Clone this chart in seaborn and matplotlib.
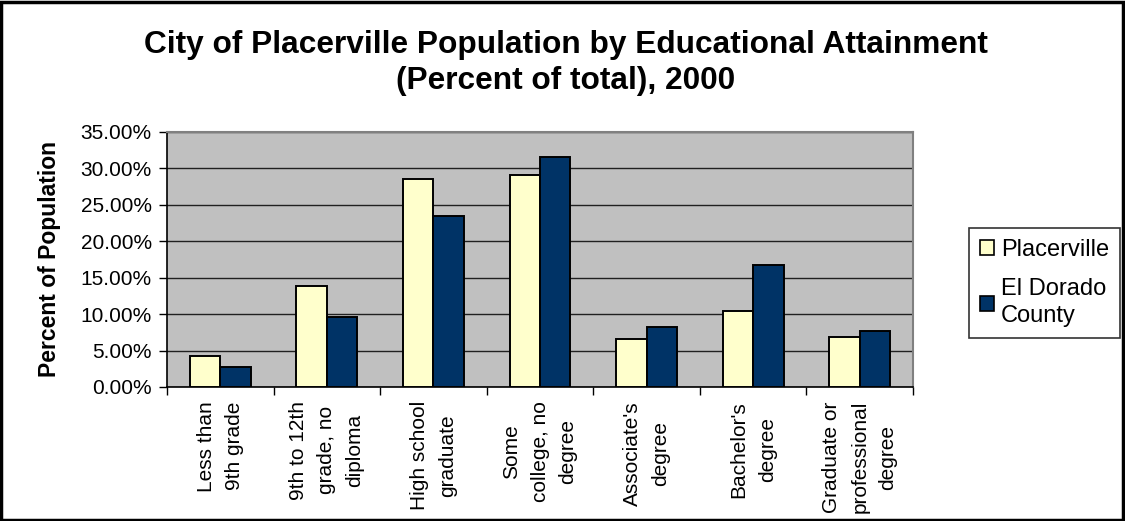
import matplotlib
matplotlib.use("Agg")
import matplotlib.pyplot as plt
import matplotlib.patches as mpatches
from matplotlib.ticker import FixedLocator, FuncFormatter
import seaborn as sns
import pandas as pd

categories = [
    "Less than\n9th grade",
    "9th to 12th\ngrade, no\ndiploma",
    "High school\ngraduate",
    "Some\ncollege, no\ndegree",
    "Associate's\ndegree",
    "Bachelor's\ndegree",
    "Graduate or\nprofessional\ndegree",
]
placerville = [4.3, 13.9, 28.5, 29.1, 6.6, 10.4, 6.9]
el_dorado = [2.7, 9.6, 23.5, 31.5, 8.3, 16.8, 7.7]
series_names = ["Placerville", "El Dorado\nCounty"]
colors = ["#FFFFCC", "#003366"]
y_ticks = [0, 5, 10, 15, 20, 25, 30, 35]

df = pd.DataFrame({
    "category": categories * 2,
    "value": placerville + el_dorado,
    "series": [series_names[0]] * len(categories) + [series_names[1]] * len(categories),
})

sns.set_style("white")
plt.rcParams["font.family"] = ["Liberation Sans", "DejaVu Sans"]
plt.rcParams["text.color"] = "black"
plt.rcParams["axes.labelcolor"] = "black"
plt.rcParams["xtick.color"] = "black"
plt.rcParams["ytick.color"] = "black"

fig = plt.figure(figsize=(11.25, 5.21), dpi=100)
ax = fig.add_axes([167 / 1125, 1 - 387 / 521, (913 - 167) / 1125, (387 - 132) / 521])
ax.set_facecolor("#C0C0C0")

sns.barplot(data=df, x="category", y="value", hue="series", palette=colors,
            order=categories, hue_order=series_names, width=0.57, saturation=1,
            edgecolor="black", linewidth=1.4, ax=ax, legend=False, zorder=3)

ax.set_ylim(0, 35)
ax.set_xlim(-0.5, len(categories) - 0.5)
ax.yaxis.set_major_locator(FixedLocator(y_ticks))
ax.yaxis.set_major_formatter(FuncFormatter(lambda v, p: f"{v:.2f}%"))
ax.grid(axis="y", color="#202020", linewidth=1.0, zorder=1)
ax.set_axisbelow(True)
for b in ax.patches:
    b.set_zorder(3)

ax.tick_params(axis="y", which="major", direction="out", length=6, width=1,
               color="black", labelsize=15, pad=5, left=True)
ax.tick_params(axis="x", which="major", length=0, labelsize=15, pad=10)
ax.set_xticks(range(len(categories)))
ax.set_xticklabels(categories, rotation=90, va="top", ha="center",
                   multialignment="center", linespacing=1.6)
ax.set_xticks([i - 0.5 for i in range(len(categories) + 1)], minor=True)
ax.tick_params(axis="x", which="minor", direction="out", length=6, width=1,
               color="black", bottom=True)

ax.set_xlabel("")
ax.set_ylabel("Percent of Population", fontsize=16.5, fontweight="bold")
ax.yaxis.set_label_coords(-0.142, 0.5)

for side in ["left", "bottom"]:
    ax.spines[side].set_color("black")
    ax.spines[side].set_linewidth(1.2)
for side in ["top", "right"]:
    ax.spines[side].set_color("#808080")
    ax.spines[side].set_linewidth(1.5)

fig.text(0.503, 1 - 45 / 521, "City of Placerville Population by Educational Attainment",
         ha="center", va="center", fontsize=22.8, fontweight="bold")
fig.text(0.503, 1 - 81 / 521, "(Percent of total), 2000",
         ha="center", va="center", fontsize=22.8, fontweight="bold")

handles = [mpatches.Patch(facecolor=c, edgecolor="black", linewidth=1.2) for c in colors]
leg = fig.legend(handles, series_names, loc="upper left",
                 bbox_to_anchor=(969 / 1125, 1 - 228 / 521),
                 fontsize=17, frameon=True, fancybox=False, edgecolor="black",
                 handlelength=0.6, handleheight=0.6, handletextpad=0.3,
                 labelspacing=0.75, borderpad=0.45, borderaxespad=0)
leg.get_frame().set_linewidth(1.2)
for t in leg.get_texts():
    t.set_linespacing(1.3)

fig.patches.append(mpatches.Rectangle((0.001, 0.002), 0.997, 0.995, transform=fig.transFigure,
                                      fill=False, edgecolor="black", linewidth=2.5))

fig.savefig("out.png", dpi=100)
